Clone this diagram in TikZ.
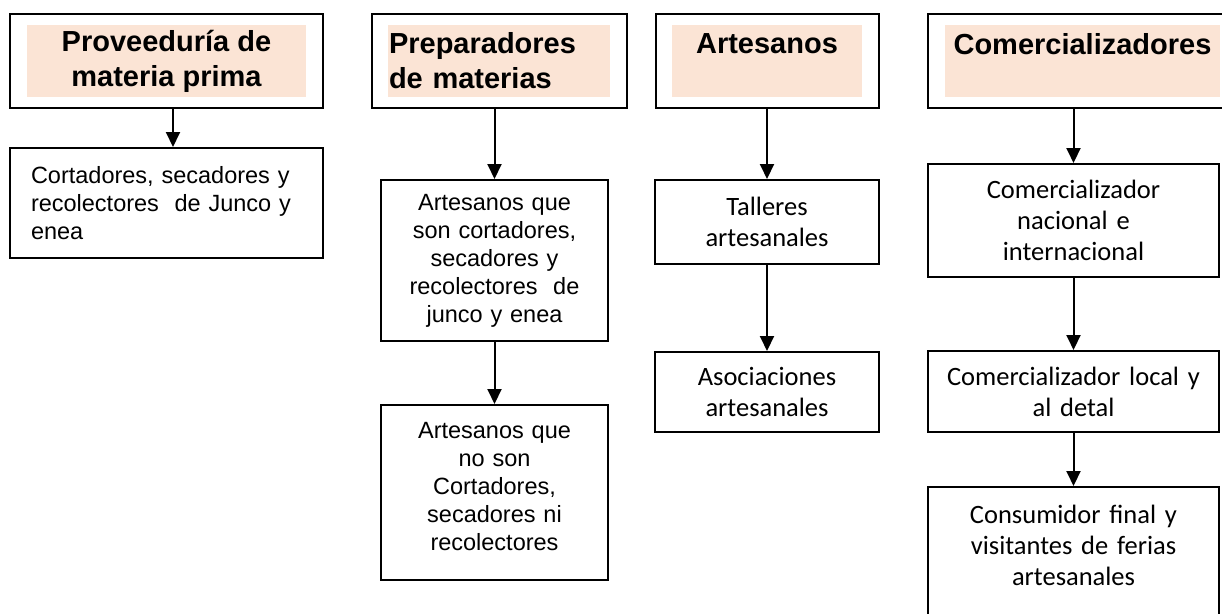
\documentclass[tikz,border=0pt]{standalone}
\usepackage{fontspec}
\setmainfont{Liberation Sans}
\newfontfamily\calibri{Carlito}
\usetikzlibrary{arrows.meta}
\definecolor{salmon}{RGB}{251,228,213}
\tikzset{ head/.style={ draw, line width=2pt, inner sep=0pt, minimum height=94pt, minimum width=#1 } }
\tikzset{ tag/.style={ fill=salmon, inner sep=0pt, minimum height=72pt, minimum width=#1, align=center, font=\bfseries\fontsize{29}{35}\selectfont } }
\tikzset{ box/.style={ draw, line width=2pt, inner sep=0pt, align=center, font=\fontsize{23.5}{28}\selectfont } }
\tikzset{ cbox/.style={ box, font=\calibri\fontsize{26.5}{31}\selectfont } }
\tikzset{ flow/.style={ line width=2pt, -{Triangle[width=14pt,length=15pt]} } }

\begin{document}
\begin{tikzpicture}[x=1pt,y=-1pt]
	\useasboundingbox (0,0) rectangle (1222,613);
	\clip (0,0) rectangle (1222,613);
	%\draw[thick,dotted] (0,0) rectangle (1222,613);
	\node[head=313pt] (Prov) at (166.5,61) {};
	\node[tag=279pt] (ProvT) at (166.5,61) {Proveeduría de\\materia prima};
	\node[head=255pt] (Prep) at (499.5,61) {};
	\node[tag=222pt, text width=220pt, inner xsep=1pt, align=left] (PrepT) at (499,61) {Preparadores\\de materias};
	\node[head=223pt] (Art) at (767.5,61) {};
	\node[tag=190pt] (ArtT) at (767,61) {Artesanos\\~};
	\node[head=298pt] (Com) at (1077,61) {};
	\node[tag=275pt] (ComT) at (1082.5,61) {Comercializadores\\~};

	\node[box, text width=271pt, inner xsep=21pt, align=left, minimum height=110pt] (Cort) at (166.5,203) {Cortadores, secadores y\\recolectores\ \ de Junco y\\enea};

	\node[box, text width=227pt, minimum height=161pt] (ArtSi) at (494.5,260.5) {Artesanos que\\son cortadores,\\secadores y\\recolectores\ \ de\\junco y enea};
	\node[box, text width=227pt, minimum height=175pt] (ArtNo) at (494.5,492.5) {Artesanos que\\no son\\Cortadores,\\secadores ni\\recolectores\\[-16pt]\mbox{}};

	\node[cbox, text width=224pt, minimum height=84pt] (Tall) at (767,222) {Talleres\\artesanales};
	\node[cbox, text width=224pt, minimum height=80pt] (Asoc) at (767,392) {Asociaciones\\artesanales};

	\node[cbox, text width=291pt, minimum height=113pt] (Nac) at (1073.5,220.5) {Comercializador\\nacional e\\internacional};
	\node[cbox, text width=291pt, minimum height=81pt] (Loc) at (1073.5,391.5) {Comercializador local y\\al detal};
	\node[cbox, text width=291pt, minimum height=135pt] (Cons) at (1073.5,554.5) {Consumidor final y\\visitantes de ferias\\artesanales\\[-12pt]\mbox{}};

	\draw [flow] ([xshift=6.5pt]Prov.south) -- ([xshift=6.5pt]Cort.north);
	\draw [flow] (Prep.south -| ArtSi.north) -- (ArtSi.north);
	\draw [flow] (ArtSi) -- (ArtNo);
	\draw [flow] (Art.south -| Tall.north) -- (Tall.north);
	\draw [flow] (Tall) -- (Asoc);
	\draw [flow] (Com.south -| Nac.north) -- (Nac.north);
	\draw [flow] (Nac) -- (Loc);
	\draw [flow] (Loc) -- (Cons);
\end{tikzpicture}
\end{document}
